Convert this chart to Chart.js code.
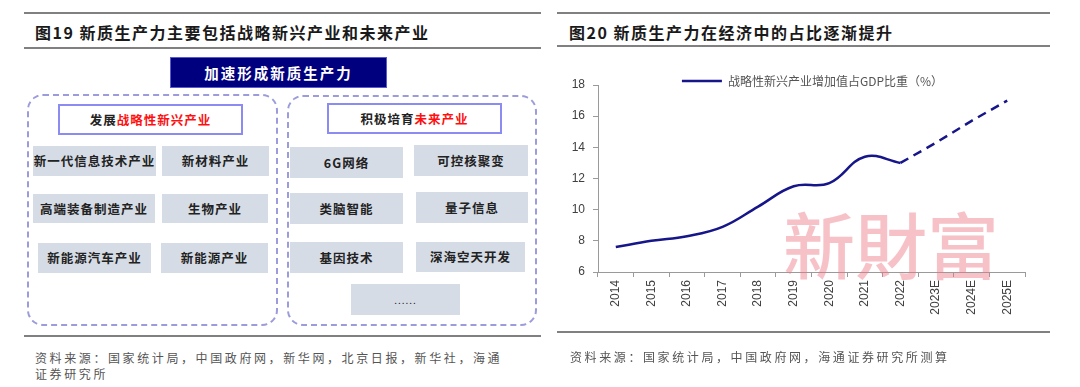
<!DOCTYPE html>
<html>
<head>
<meta charset="utf-8">
<script src="https://cdn.jsdelivr.net/npm/chart.js@4"></script>
<style>
    body { margin: 0; width: 1080px; height: 387px; background: #fff; position: relative; overflow: hidden;
           font-family: "Noto Sans CJK SC", "Liberation Sans", sans-serif; color: #222; }
    .rule { position: absolute; height: 2px; background: #808080; }
    .title { position: absolute; font-size: 16px; font-weight: 700; line-height: 20px; letter-spacing: 1.5px; color: #1a1a1a; }
    .source { position: absolute; font-size: 12px; line-height: 16px; letter-spacing: 2.6px; color: #555; }
    .navy { position: absolute; left: 170px; top: 57px; width: 217px; height: 31px; box-sizing: border-box;
            background: #00007f; border: 1px solid #5a5ad0; color: #fff; font-size: 14.5px; font-weight: 700;
            letter-spacing: 2px; text-align: center; line-height: 29px; }
    .group { position: absolute; box-sizing: border-box; border: 2px dashed #9c9cdc; border-radius: 16px; }
    .head { position: absolute; box-sizing: border-box; border: 2px solid #8b8bf2; background: #fff;
            font-size: 12.5px; font-weight: 700; text-align: center; letter-spacing: 1px; color: #222; }
    .head em { font-style: normal; color: #ff1010; }
    .cell { position: absolute; background: #d6dce6; font-size: 12.5px; font-weight: 700; text-align: center;
            letter-spacing: 1px; color: #222; }
    #chartBox { position: absolute; left: 540px; top: 60px; width: 500px; height: 280px; }
    .mark { position: absolute; left: 783px; top: 206px; font-family: "Noto Sans CJK TC", sans-serif; font-size: 72px;
            font-weight: 500; line-height: 72px; letter-spacing: 0px; color: rgba(236, 120, 130, 0.45); pointer-events: none; }
</style>
</head>
<body>
<!-- left panel: diagram -->
<div class="rule" style="left:24px; top:12px; width:517px;"></div>
<div class="title" style="left:35px; top:22px;">图19 新质生产力主要包括战略新兴产业和未来产业</div>
<div class="rule" style="left:24px; top:47px; width:517px;"></div>
<div class="navy">加速形成新质生产力</div>

<div class="group" style="left:27px; top:94px; width:251px; height:232px;"></div>
<div class="head" style="left:58px; top:104px; width:185px; height:31px; line-height:27px;">发展<em>战略性新兴产业</em></div>
<div class="cell" style="left:33px; top:146px; width:123px; height:30px; line-height:30px;">新一代信息技术产业</div>
<div class="cell" style="left:162px; top:146px; width:107px; height:30px; line-height:30px;">新材料产业</div>
<div class="cell" style="left:33px; top:194px; width:122px; height:29px; line-height:29px;">高端装备制造产业</div>
<div class="cell" style="left:162px; top:194px; width:106px; height:29px; line-height:29px;">生物产业</div>
<div class="cell" style="left:38px; top:243px; width:113px; height:30px; line-height:30px;">新能源汽车产业</div>
<div class="cell" style="left:161px; top:243px; width:107px; height:30px; line-height:30px;">新能源产业</div>

<div class="group" style="left:287px; top:95px; width:250px; height:231px;"></div>
<div class="head" style="left:327px; top:103px; width:175px; height:31px; line-height:27px;">积极培育<em>未来产业</em></div>
<div class="cell" style="left:290px; top:147px; width:113px; height:31px; line-height:31px;">6G网络</div>
<div class="cell" style="left:414px; top:145px; width:114px; height:31px; line-height:31px;">可控核聚变</div>
<div class="cell" style="left:290px; top:193px; width:113px; height:31px; line-height:31px;">类脑智能</div>
<div class="cell" style="left:416px; top:192px; width:112px; height:31px; line-height:31px;">量子信息</div>
<div class="cell" style="left:290px; top:242px; width:113px; height:31px; line-height:31px;">基因技术</div>
<div class="cell" style="left:416px; top:242px; width:109px; height:30px; line-height:30px;">深海空天开发</div>
<div class="cell" style="left:351px; top:284px; width:109px; height:31px; line-height:31px; font-weight:400; font-size:10px;">......</div>

<div class="rule" style="left:24px; top:335px; width:517px;"></div>
<div class="source" style="left:35px; top:350px; width:480px;">资料来源：国家统计局，中国政府网，新华网，北京日报，新华社，海通证券研究所</div>

<!-- right panel: chart -->
<div class="rule" style="left:557px; top:12px; width:493px;"></div>
<div class="title" style="left:569px; top:22px;">图20 新质生产力在经济中的占比逐渐提升</div>
<div class="rule" style="left:557px; top:45px; width:493px;"></div>
<div id="chartBox"><canvas id="shareChart"></canvas></div>
<div class="mark">新財富</div>
<div class="rule" style="left:557px; top:331px; width:493px;"></div>
<div class="source" style="left:570px; top:349px;">资料来源：国家统计局，中国政府网，海通证券研究所测算</div>

<script>
var years = ['2014', '2015', '2016', '2017', '2018', '2019', '2020', '2021', '2022', '2023E', '2024E', '2025E'];
var actualShare = [7.6, 8.0, 8.3, 8.9, 10.2, 11.5, 11.7, 13.4, 13.0, null, null, null];
var forecastShare = [null, null, null, null, null, null, null, null, 13.0, 14.3, 15.7, 17.0];
var yTicks = [6, 8, 10, 12, 14, 16, 18];
var seriesName = '战略性新兴产业增加值占GDP比重（%）';

var lineColor = '#16168a';
var axisColor = '#9a9a9a';
var tickFont = { family: 'Liberation Sans', size: 12 };

// the legend sits centred over the plot, not over the whole canvas,
// and its text hangs a little below its box, so widen the clip
var legendShift = {
    id: 'legendShift',
    afterLayout: function (chart) {
        chart.legend.left += 16;
        chart.legend.right += 16;
        chart.legend.bottom += 6;
        chart.legend.height += 6;
    }
};

new Chart(document.getElementById('shareChart').getContext('2d'), {
    type: 'line',
    data: {
        labels: years,
        datasets: [
            {
                label: seriesName,
                data: actualShare,
                borderColor: lineColor,
                backgroundColor: lineColor,
                borderWidth: 2.5,
                tension: 0.4,
                pointRadius: 0,
                spanGaps: false
            },
            {
                label: 'forecast',
                data: forecastShare,
                borderColor: lineColor,
                backgroundColor: lineColor,
                borderWidth: 2.5,
                borderDash: [9, 6],
                tension: 0,
                pointRadius: 0
            }
        ]
    },
    options: {
        responsive: true,
        maintainAspectRatio: false,
        animation: false,
        layout: { padding: { left: 28, right: 15, top: 11, bottom: 18 } },
        plugins: {
            tooltip: { enabled: false },
            legend: {
                display: true,
                position: 'top',
                maxHeight: 14,
                labels: {
                    usePointStyle: true,
                    pointStyle: 'line',
                    pointStyleWidth: 40,
                    padding: 4,
                    color: '#555',
                    font: { family: 'Noto Sans CJK SC', size: 12 },
                    filter: function (item) {
                        return item.datasetIndex === 0;
                    }
                }
            }
        },
        scales: {
            x: {
                offset: true,
                grid: { display: true, offset: true, drawOnChartArea: false, tickLength: 5, color: axisColor },
                border: { display: true, color: axisColor, width: 1 },
                ticks: { color: '#404040', font: tickFont, minRotation: 90, maxRotation: 90, padding: 3, autoSkip: false },
                afterFit: function (scale) {
                    scale.height = 50;
                }
            },
            y: {
                min: yTicks[0],
                max: yTicks[yTicks.length - 1],
                grid: { display: true, drawOnChartArea: false, tickLength: 5, color: axisColor },
                border: { display: true, color: axisColor, width: 1 },
                ticks: { stepSize: yTicks[1] - yTicks[0], color: '#404040', font: tickFont, padding: 8 },
                afterFit: function (scale) {
                    scale.width = 30;
                }
            }
        }
    },
    plugins: [legendShift]
});
</script>
</body>
</html>
